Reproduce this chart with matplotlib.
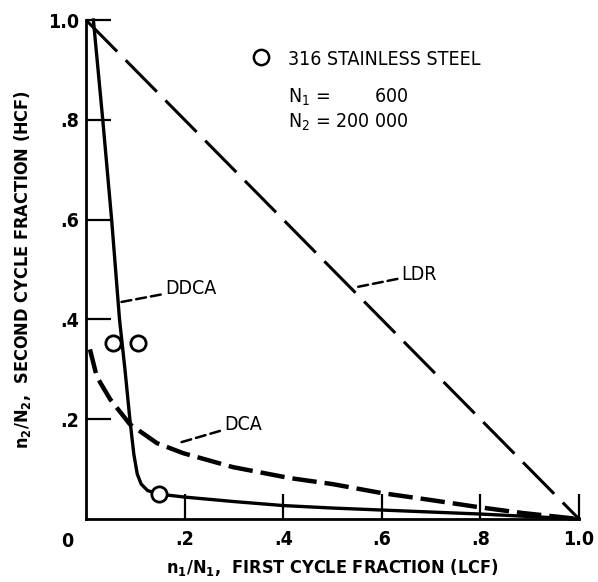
import matplotlib
matplotlib.use("Agg")
import matplotlib.pyplot as plt

# ---- data ----
ldr_x = [0.0, 1.0]
ldr_y = [1.0, 0.0]

ddca_x = [0.015, 0.034, 0.052, 0.068, 0.079, 0.089, 0.097, 0.104, 0.112, 0.125, 0.148, 0.20, 0.30, 0.40, 0.50, 0.60, 0.70, 0.80, 0.90, 1.0]
ddca_y = [1.0, 0.80, 0.60, 0.40, 0.30, 0.20, 0.13, 0.09, 0.070, 0.057, 0.050, 0.044, 0.035, 0.027, 0.022, 0.018, 0.014, 0.010, 0.005, 0.0]

dca_x = [0.008, 0.022, 0.049, 0.089, 0.144, 0.197, 0.298, 0.414, 0.50, 0.60, 0.70, 0.795, 0.886, 1.0]
dca_y = [0.34, 0.285, 0.24, 0.19, 0.152, 0.132, 0.104, 0.082, 0.070, 0.052, 0.038, 0.024, 0.012, 0.0]

pts_x = [0.055, 0.105, 0.148]
pts_y = [0.353, 0.353, 0.050]

xticks = [0.2, 0.4, 0.6, 0.8, 1.0]
xticklabels = [".2", ".4", ".6", ".8", "1.0"]
yticks = [0.2, 0.4, 0.6, 0.8, 1.0]
yticklabels = [".2", ".4", ".6", ".8", "1.0"]

FONT = dict(family="DejaVu Sans", fontweight="bold", fontstretch="condensed")
FONTN = dict(family="DejaVu Sans", fontweight="normal", fontstretch="condensed")

fig = plt.figure(figsize=(5.98, 5.82), dpi=100)
ax = fig.add_axes([0.1438, 0.1082, 0.8245, 0.8574])
ax.set_xlim(0, 1.0)
ax.set_ylim(0, 1.0)
for s in ["top", "right"]:
    ax.spines[s].set_visible(False)
for s in ["left", "bottom"]:
    ax.spines[s].set_linewidth(2.0)

ax.plot(ldr_x, ldr_y, color="black", lw=2.2, dashes=(14.5, 4), clip_on=False)
ax.plot(ddca_x, ddca_y, color="black", lw=2.4, clip_on=False)
ax.plot(dca_x, dca_y, color="black", lw=3.2, dashes=(5.5, 1.8), clip_on=False)
ax.plot(pts_x, pts_y, "o", ms=11, mfc="white", mec="black", mew=2.0, clip_on=False, zorder=5)

ax.set_xticks(xticks)
ax.set_xticklabels(xticklabels, **FONT, fontsize=14)
ax.set_yticks(yticks)
ax.set_yticklabels(yticklabels, **FONT, fontsize=14)
ax.tick_params(axis="x", direction="in", length=18, width=1.6, pad=8)
ax.tick_params(axis="y", direction="in", length=18, width=1.6, pad=5)
ax.text(-0.038, -0.045, "0", transform=ax.transAxes, ha="center", va="center", **FONT, fontsize=14)

ax.set_xlabel(r"$\mathregular{n_1/N_1}$,  FIRST CYCLE FRACTION (LCF)", **FONT, fontsize=13, labelpad=6)
ax.set_ylabel(r"$\mathregular{n_2/N_2}$,  SECOND CYCLE FRACTION (HCF)", **FONT, fontsize=13, labelpad=11)

# legend-like text
ax.plot([0.355], [0.925], "o", ms=11, mfc="white", mec="black", mew=1.8, transform=ax.transAxes, clip_on=False)
ax.text(0.41, 0.92, "316 STAINLESS STEEL", transform=ax.transAxes, va="center", **FONTN, fontsize=14)
ax.text(0.41, 0.845, r"$\mathregular{N_1}$ =        600", transform=ax.transAxes, va="center", **FONTN, fontsize=14)
ax.text(0.41, 0.795, r"$\mathregular{N_2}$ = 200 000", transform=ax.transAxes, va="center", **FONTN, fontsize=14)

# curve labels with dashed leaders
ax.annotate("DDCA", xy=(0.072, 0.435), xytext=(0.16, 0.461), va="center",
            arrowprops=dict(arrowstyle="-", lw=1.8, ls=(0, (4, 2)), color="black", shrinkA=1, shrinkB=0),
            **FONTN, fontsize=14)
ax.annotate("DCA", xy=(0.19, 0.153), xytext=(0.28, 0.19), va="center",
            arrowprops=dict(arrowstyle="-", lw=1.8, ls=(0, (4, 2)), color="black", shrinkA=1, shrinkB=0),
            **FONTN, fontsize=14)
ax.annotate("LDR", xy=(0.55, 0.465), xytext=(0.64, 0.49), va="center",
            arrowprops=dict(arrowstyle="-", lw=1.8, ls=(0, (4, 2)), color="black", shrinkA=1, shrinkB=0),
            **FONTN, fontsize=14)

fig.savefig("out.png", dpi=100)
